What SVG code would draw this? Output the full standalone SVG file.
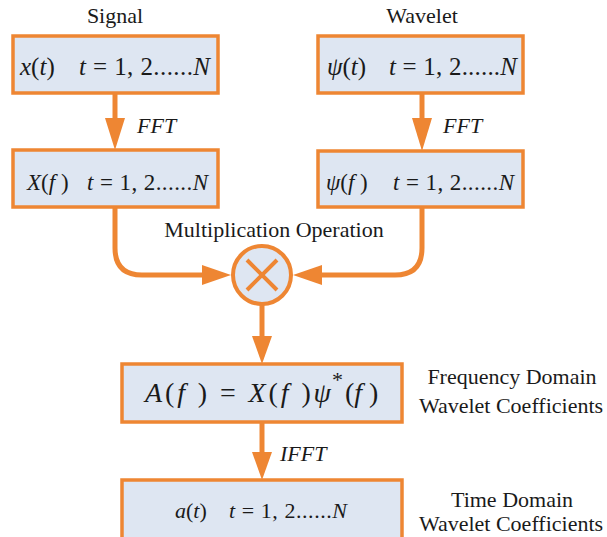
<svg xmlns="http://www.w3.org/2000/svg" width="607" height="537" viewBox="0 0 607 537">
<style>
.box{fill:#DEE6F2;stroke:#EE8633;stroke-width:3.5}
.lbl{font-family:"Liberation Serif",serif;fill:#1a1a1a}
.m{font-family:"Liberation Serif",serif;fill:#1a1a1a}
.i{font-style:italic}
.ln{fill:none;stroke:#EE8633;stroke-width:5}
.ah{fill:#EE8633}
</style>
<rect width="607" height="537" fill="#ffffff"/>
<text class="lbl" x="115" y="23" font-size="22" text-anchor="middle">Signal</text>
<text class="lbl" x="422" y="23" font-size="22" text-anchor="middle">Wavelet</text>

<g id="connectors">
  <line class="ln" x1="115" y1="93" x2="115" y2="122"/>
  <polygon class="ah" points="105,118 125,118 115,150"/>
  <line class="ln" x1="422" y1="93" x2="422" y2="122"/>
  <polygon class="ah" points="412,118 432,118 422,151"/>
  <path class="ln" d="M115,207 V248 Q115,275 142,275 H206"/>
  <polygon class="ah" points="202,265 202,285 231,275"/>
  <path class="ln" d="M422,207 V248 Q422,275 395,275 H318"/>
  <polygon class="ah" points="322,265 322,285 293,275"/>
  <line class="ln" x1="262" y1="305" x2="262" y2="340"/>
  <polygon class="ah" points="252,336 272,336 262,364"/>
  <line class="ln" x1="262" y1="422" x2="262" y2="456"/>
  <polygon class="ah" points="252,452 272,452 262,480"/>
  <text class="m i" x="137" y="133" font-size="22">FFT</text>
  <text class="m i" x="443" y="133" font-size="22">FFT</text>
  <text class="m i" x="280" y="461" font-size="22">IFFT</text>
</g>

<g id="n-signal">
  <rect class="box" x="13" y="36" width="205" height="57"/>
  <text class="m" x="20" y="75" font-size="25"><tspan class="i">x</tspan>(<tspan class="i">t</tspan>)</text>
  <text class="m" x="79" y="75" font-size="25" textLength="131" lengthAdjust="spacing"><tspan class="i">t</tspan> = 1, 2......<tspan class="i">N</tspan></text>
</g>
<g id="n-wavelet">
  <rect class="box" x="318" y="36" width="205" height="57"/>
  <text class="m" x="327" y="75" font-size="25"><tspan class="i">ψ</tspan>(<tspan class="i">t</tspan>)</text>
  <text class="m" x="389" y="75" font-size="25" textLength="128" lengthAdjust="spacing"><tspan class="i">t</tspan> = 1, 2......<tspan class="i">N</tspan></text>
</g>
<g id="n-Xf">
  <rect class="box" x="13" y="150" width="205" height="57"/>
  <text class="m" x="27" y="190" font-size="23"><tspan class="i">X</tspan>(<tspan class="i">f</tspan> )</text>
  <text class="m" x="87" y="190" font-size="23" textLength="121" lengthAdjust="spacing"><tspan class="i">t</tspan> = 1, 2......<tspan class="i">N</tspan></text>
</g>
<g id="n-psif">
  <rect class="box" x="318" y="151" width="205" height="56"/>
  <text class="m" x="326" y="190" font-size="23"><tspan class="i">ψ</tspan>(<tspan class="i">f</tspan> )</text>
  <text class="m" x="393" y="190" font-size="23" textLength="121" lengthAdjust="spacing"><tspan class="i">t</tspan> = 1, 2......<tspan class="i">N</tspan></text>
</g>
<g id="n-mult">
  <text class="lbl" x="274" y="237" font-size="22" text-anchor="middle">Multiplication Operation</text>
  <circle cx="262" cy="275" r="29" fill="#DEE6F2" stroke="#EE8633" stroke-width="4"/>
  <path d="M247,260 L277,290 M277,260 L247,290" stroke="#EE8633" stroke-width="4" fill="none"/>
</g>
<g id="n-Af">
  <rect class="box" x="122" y="364" width="280" height="58"/>
  <text class="m" x="145" y="402" font-size="28" textLength="186" lengthAdjust="spacing"><tspan class="i">A</tspan>(<tspan class="i">f</tspan> ) = <tspan class="i">X</tspan>(<tspan class="i">f</tspan> )<tspan class="i">ψ</tspan></text>
  <text class="m" x="332" y="387" font-size="22">*</text>
  <text class="m" x="345" y="402" font-size="28">(<tspan class="i">f</tspan> )</text>
  <text class="lbl" x="512" y="384" font-size="22" text-anchor="middle">Frequency Domain</text>
  <text class="lbl" x="511" y="413" font-size="22" text-anchor="middle">Wavelet Coefficients</text>
</g>
<g id="n-at">
  <rect class="box" x="122" y="480" width="280" height="62"/>
  <text class="m" x="175" y="518" font-size="22"><tspan class="i">a</tspan>(<tspan class="i">t</tspan>)</text>
  <text class="m" x="229" y="518" font-size="22" textLength="118" lengthAdjust="spacing"><tspan class="i">t</tspan> = 1, 2......<tspan class="i">N</tspan></text>
  <text class="lbl" x="512" y="507" font-size="22" text-anchor="middle">Time Domain</text>
  <text class="lbl" x="511" y="531" font-size="22" text-anchor="middle">Wavelet Coefficients</text>
</g>
</svg>
